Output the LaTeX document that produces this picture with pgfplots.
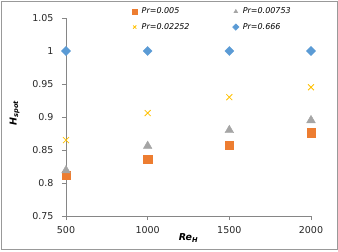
\documentclass[border=0pt]{standalone}
\usepackage{fontspec}
\setmainfont{DejaVu Sans}
\setsansfont{DejaVu Sans}
\usepackage{pgfplots}
\pgfplotsset{compat=1.18}
\definecolor{cOr}{HTML}{ED7D31}
\definecolor{cGr}{HTML}{A5A5A5}
\definecolor{cYe}{HTML}{FFC000}
\definecolor{cBl}{HTML}{5B9BD5}
\definecolor{axc}{HTML}{868686}
\begin{document}
\begin{tikzpicture}
\useasboundingbox (0bp,0bp) rectangle (338bp,252bp);
\draw[color=black!40, line width=0.8bp] (1bp,3bp) rectangle (337bp,250.5bp);
\begin{axis}[
  at={(66bp,36bp)}, anchor=origin,
  scale only axis, width=245bp, height=198bp,
  xmin=500, xmax=2000, ymin=0.75, ymax=1.05,
  xtick={500,1000,1500,2000},
  ytick={0.75,0.8,0.85,0.9,0.95,1,1.05},
  yticklabels={0.75,0.8,0.85,0.9,0.95,1,1.05},
  xticklabels={500,1000,1500,2000},
  axis x line*=bottom, axis y line*=left,
  axis line style={draw=axc, line width=0.6bp, -},
  tick style={draw=axc, line width=0.6bp},
  tick align=outside, major tick length=4bp,
  ticklabel style={font=\fontsize{9.5bp}{11bp}\selectfont, text=black!85},
  yticklabel style={xshift=-5bp},
  xticklabel style={yshift=-3bp},
  clip=false,
  xlabel={\bfseries\itshape Re\textsubscript{H}},
  ylabel={\bfseries\itshape H\textsubscript{spot}},
  label style={font=\fontsize{9.5bp}{11bp}\selectfont},
  xlabel style={at={(axis description cs:0.5,-0.111)}, anchor=center},
  ylabel style={at={(axis description cs:-0.21,0.52)}, anchor=center},
  legend columns=2,
  legend style={draw=none, fill=none, at={(axis description cs:0.258,1.072)}, anchor=north west,
    font=\fontsize{8bp}{9.5bp}\selectfont\itshape, row sep=4bp,
    /tikz/every even column/.append style={column sep=41bp}},
  legend cell align=left,
  legend image code/.code={\path[draw=none,fill=none] (-2.3bp,0bp) -- (5bp,0bp); \draw[#1, mark size=2.3bp] plot coordinates {(0bp,0bp)};},
]
\addplot[only marks, mark=square*, mark size=4.3bp, mark options={draw=cOr, fill=cOr}] coordinates {(500,0.812) (1000,0.836) (1500,0.857) (2000,0.876)};
\addlegendentry{Pr=0.005}
\addplot[only marks, mark=triangle*, mark size=5bp, mark options={draw=cGr, fill=cGr}] coordinates {(500,0.819) (1000,0.856) (1500,0.880) (2000,0.895)};
\addlegendentry{Pr=0.00753}
\addplot[only marks, mark=x, mark size=4.2bp, mark options={draw=cYe, line width=0.8bp}] coordinates {(500,0.865) (1000,0.906) (1500,0.930) (2000,0.945)};
\addlegendentry{Pr=0.02252}
\addplot[only marks, mark=square*, mark size=3.2bp, mark options={draw=cBl, fill=cBl, rotate=45}] coordinates {(500,1.0) (1000,1.0) (1500,1.0) (2000,1.0)};
\addlegendentry{Pr=0.666}
\end{axis}
\end{tikzpicture}
\end{document}
